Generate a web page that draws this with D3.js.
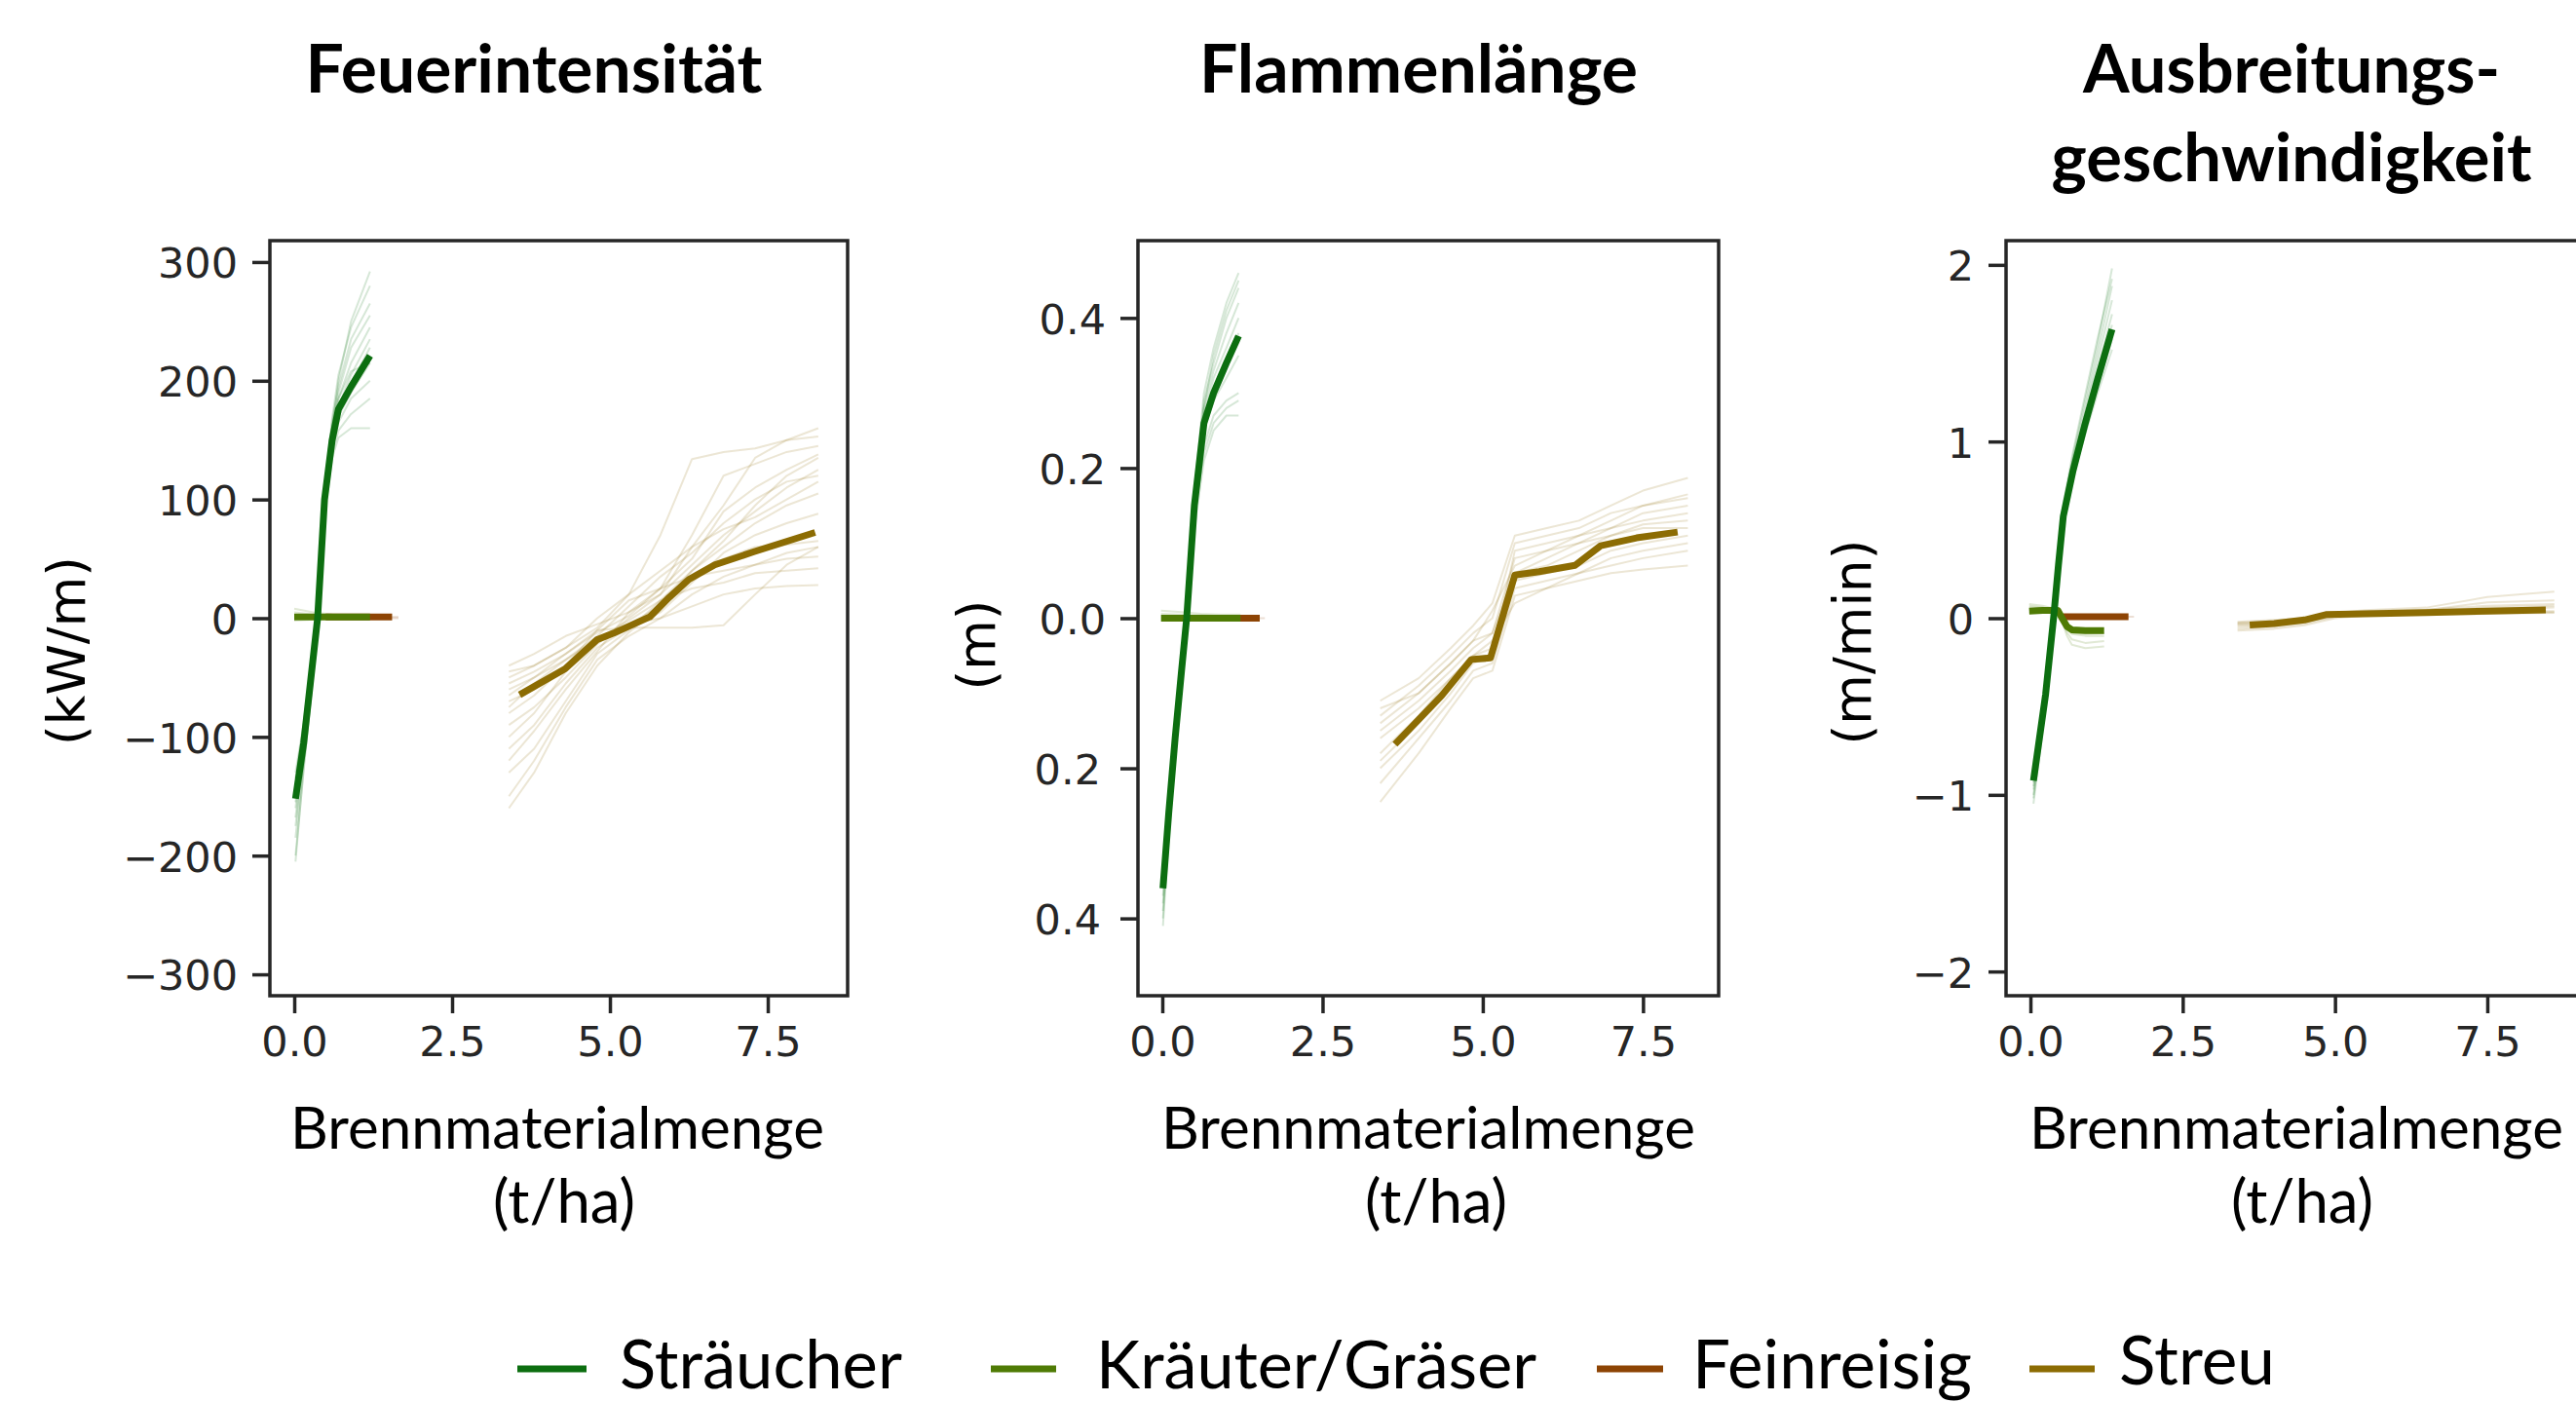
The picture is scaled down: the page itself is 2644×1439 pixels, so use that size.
<!DOCTYPE html>
<html><head><meta charset="utf-8">
<script src="https://cdn.jsdelivr.net/npm/d3@7"></script>
<style>
html,body{margin:0;padding:0;background:#fff;overflow:hidden}
svg{display:block}
</style></head><body>
<svg id="chart" width="2644" height="1439"></svg>
<script>
// ---------------- data ----------------
const fuelTypes = ["Sträucher", "Kräuter/Gräser", "Feinreisig", "Streu"];
const fuelColors = ["#0c6e10", "#4f7b05", "#8d4404", "#8c6c03"];
const panelTitles = [["Feuerintensität"], ["Flammenlänge"], ["Ausbreitungs-", "geschwindigkeit"]];
const yAxisLabels = ["(kW/m)", "(m)", "(m/min)"];
const xAxisLabel = ["Brennmaterialmenge", "(t/ha)"];
const xTickValues = [0, 2.5, 5, 7.5];
const xTickLabels = ["0.0", "2.5", "5.0", "7.5"];
const yTickValues1 = [-300, -200, -100, 0, 100, 200, 300];
const yTickLabels1 = ["−300", "−200", "−100", "0", "100", "200", "300"];
const yTickValues2 = [-0.4, -0.2, 0, 0.2, 0.4];
const yTickLabels2 = ["0.4", "0.2", "0.0", "0.2", "0.4"];
const yTickValues3 = [-2, -1, 0, 1, 2];
const yTickLabels3 = ["−2", "−1", "0", "1", "2"];

// Panel 1: Feuerintensität (kW/m)
const intShrubX = [0.02, 0.15, 0.37, 0.48, 0.6, 0.7, 0.9, 1.2];
const intShrubY = [-152, -105, 0, 100, 150, 176, 195, 221];
const intShrubSamples = [
  [-200, -128, -8, 95, 160, 200, 250, 292],
  [-185, -120, -5, 105, 168, 205, 245, 280],
  [-175, -115, 2, 110, 165, 195, 235, 265],
  [-168, -110, 5, 108, 160, 190, 228, 255],
  [-160, -105, 0, 100, 155, 185, 215, 245],
  [-150, -100, 3, 102, 150, 178, 205, 235],
  [-145, -98, -3, 96, 148, 172, 198, 228],
  [-140, -95, 6, 98, 145, 170, 190, 215],
  [-135, -90, 0, 92, 140, 165, 185, 200],
  [-130, -88, 4, 90, 138, 158, 172, 185],
  [-155, -108, -10, 88, 135, 152, 160, 160],
  [-205, -125, -12, 100, 158, 185, 208, 215]
];
const intHerbX = [0.0, 0.3, 0.6, 0.9, 1.2];
const intHerbY = [1, 1, 1, 1, 1];
const intHerbSamples = [[8, 5, 3, 2, 2], [5, 3, 2, 2, 1], [-2, -1, 0, 0, 0]];
const intTwigX = [0.5, 1.0, 1.55];
const intTwigY = [1, 1, 1];
const intTwigSampleX = [0.5, 1.0, 1.65];
const intTwigSamples = [[1, 1, 1], [0, 0, 0]];
const intLitterX = [3.57, 4.29, 4.8, 5.06, 5.63, 5.94, 6.25, 6.66, 7.27, 8.25];
const intLitterY = [-64.5, -42.7, -18, -12.6, 1.1, 17.6, 32.6, 44.9, 55.8, 72.2];
const intLitterSampleX = [3.4, 3.8, 4.3, 4.8, 5.3, 5.8, 6.3, 6.8, 7.3, 7.8, 8.3];
const intLitterSamples = [
  [-40, -30, -15, -5, 5, 20, 60, 95, 135, 150, 160],
  [-55, -45, -30, -12, 2, 25, 70, 120, 130, 140, 145],
  [-70, -60, -40, -20, -5, 10, 40, 60, 80, 95, 105],
  [-90, -75, -50, -22, 0, 20, 45, 70, 90, 110, 125],
  [-110, -90, -55, -25, -8, 5, 30, 55, 70, 80, 88],
  [-130, -110, -70, -30, -10, 15, 40, 65, 95, 120, 135],
  [-150, -120, -75, -35, -15, 0, 20, 35, 45, 55, 60],
  [-160, -130, -80, -40, -12, 10, 35, 50, 60, 62, 65],
  [-60, -50, -35, -15, 10, 35, 55, 80, 100, 115, 120],
  [-80, -65, -40, -10, 15, 25, 35, 40, 45, 50, 52],
  [-100, -80, -45, -20, -5, 0, 10, 20, 25, 27, 28],
  [-45, -40, -25, 0, 20, 40, 60, 75, 85, 100, 115],
  [-120, -95, -60, -28, 5, 25, 50, 90, 110, 125, 138],
  [-75, -55, -35, -18, -2, 15, 25, 30, 38, 40, 42],
  [-50, -40, -25, -8, 20, 70, 134, 140, 143, 150, 153],
  [-65, -50, -30, -10, -8, -8, -8, -6, 20, 45, 60]
];

// Panel 2: Flammenlänge (m)
const flameShrubX = [0.01, 0.1, 0.2, 0.3, 0.38, 0.5, 0.65, 0.8, 1.0, 1.19];
const flameShrubY = [-0.36, -0.26, -0.16, -0.07, 0.0, 0.15, 0.26, 0.30, 0.34, 0.376];
const flameShrubSamples = [
  [-0.41, -0.29, -0.18, -0.08, 0.0, 0.17, 0.30, 0.36, 0.42, 0.46],
  [-0.39, -0.28, -0.17, -0.07, 0.01, 0.16, 0.29, 0.34, 0.40, 0.44],
  [-0.38, -0.27, -0.17, -0.08, -0.01, 0.15, 0.28, 0.33, 0.38, 0.42],
  [-0.37, -0.26, -0.16, -0.07, 0.0, 0.16, 0.27, 0.32, 0.36, 0.40],
  [-0.35, -0.25, -0.15, -0.06, 0.01, 0.15, 0.26, 0.30, 0.34, 0.38],
  [-0.34, -0.25, -0.16, -0.07, 0.0, 0.14, 0.25, 0.29, 0.32, 0.35],
  [-0.36, -0.26, -0.16, -0.06, 0.0, 0.13, 0.23, 0.27, 0.29, 0.30],
  [-0.33, -0.24, -0.15, -0.06, 0.0, 0.12, 0.21, 0.25, 0.27, 0.27],
  [-0.40, -0.28, -0.17, -0.07, 0.0, 0.16, 0.28, 0.35, 0.41, 0.45],
  [-0.35, -0.25, -0.15, -0.06, 0.02, 0.14, 0.22, 0.26, 0.28, 0.29]
];
const flameHerbX = [-0.02, 0.3, 0.6, 0.9, 1.22];
const flameHerbY = [0.0, 0.0, 0.0, 0.0, 0.0];
const flameHerbSamples = [[0.01, 0.008, 0.006, 0.005, 0.005], [0.006, 0.005, 0.004, 0.003, 0.003]];
const flameTwigX = [0.5, 1.0, 1.52];
const flameTwigY = [0.0, 0.0, 0.0];
const flameTwigSampleX = [0.5, 1.0, 1.6];
const flameTwigSamples = [[0.0, 0.0, 0.0]];
const flameLitterX = [3.63, 4.36, 4.82, 5.12, 5.5, 5.88, 6.44, 6.84, 7.40, 8.04];
const flameLitterY = [-0.168, -0.103, -0.055, -0.053, 0.0575, 0.062, 0.0705, 0.0965, 0.107, 0.1147];
const flameLitterSampleX = [3.4, 4.0, 4.5, 4.85, 5.15, 5.5, 6.0, 6.5, 7.0, 7.5, 8.2];
const flameLitterSamples = [
  [-0.11, -0.08, -0.04, -0.01, 0.02, 0.11, 0.12, 0.13, 0.15, 0.17, 0.187],
  [-0.13, -0.09, -0.05, -0.02, 0.0, 0.10, 0.11, 0.12, 0.14, 0.15, 0.165],
  [-0.15, -0.11, -0.07, -0.04, -0.02, 0.08, 0.09, 0.10, 0.12, 0.14, 0.15],
  [-0.18, -0.13, -0.08, -0.05, -0.04, 0.06, 0.07, 0.09, 0.11, 0.125, 0.13],
  [-0.20, -0.15, -0.10, -0.06, -0.05, 0.05, 0.06, 0.07, 0.09, 0.10, 0.11],
  [-0.22, -0.16, -0.11, -0.07, -0.06, 0.04, 0.05, 0.06, 0.07, 0.08, 0.09],
  [-0.245, -0.18, -0.12, -0.08, -0.07, 0.03, 0.04, 0.05, 0.06, 0.065, 0.07],
  [-0.12, -0.10, -0.06, -0.03, 0.01, 0.07, 0.09, 0.11, 0.13, 0.15, 0.16],
  [-0.16, -0.12, -0.08, -0.05, -0.03, 0.02, 0.04, 0.06, 0.08, 0.09, 0.10],
  [-0.19, -0.14, -0.09, -0.055, -0.05, 0.09, 0.10, 0.11, 0.12, 0.13, 0.14],
  [-0.14, -0.10, -0.06, -0.03, -0.02, 0.06, 0.08, 0.10, 0.11, 0.12, 0.12]
];

// Panel 3: Ausbreitungsgeschwindigkeit (m/min)
const spreadShrubX = [0.05, 0.25, 0.38, 0.46, 0.54, 0.70, 0.89, 1.10, 1.34];
const spreadShrubY = [-0.92, -0.43, 0.0, 0.30, 0.577, 0.835, 1.09, 1.35, 1.635];
const spreadShrubSamples = [
  [-1.05, -0.50, -0.02, 0.32, 0.62, 0.92, 1.22, 1.55, 1.98],
  [-1.00, -0.47, 0.0, 0.33, 0.63, 0.90, 1.18, 1.50, 1.88],
  [-0.97, -0.45, 0.01, 0.32, 0.61, 0.88, 1.15, 1.45, 1.80],
  [-0.95, -0.44, 0.0, 0.31, 0.60, 0.86, 1.12, 1.40, 1.72],
  [-0.90, -0.42, 0.02, 0.31, 0.59, 0.85, 1.10, 1.37, 1.66],
  [-0.88, -0.40, 0.03, 0.30, 0.56, 0.82, 1.06, 1.31, 1.58],
  [-0.86, -0.39, 0.02, 0.29, 0.55, 0.80, 1.03, 1.27, 1.52],
  [-1.02, -0.48, -0.01, 0.34, 0.65, 0.94, 1.25, 1.58, 1.92],
  [-0.93, -0.43, 0.0, 0.30, 0.58, 0.84, 1.08, 1.33, 1.60]
];
const spreadHerbX = [-0.02, 0.2, 0.45, 0.52, 0.6, 0.68, 0.9, 1.21];
const spreadHerbY = [0.04, 0.044, 0.044, 0.0, -0.047, -0.066, -0.07, -0.07];
const spreadHerbSamples = [
  [0.08, 0.07, 0.05, 0.0, -0.08, -0.12, -0.14, -0.13],
  [0.06, 0.06, 0.045, -0.01, -0.06, -0.09, -0.10, -0.10],
  [0.05, 0.05, 0.04, 0.0, -0.05, -0.08, -0.09, -0.085],
  [0.03, 0.035, 0.035, 0.0, -0.04, -0.06, -0.065, -0.06],
  [0.07, 0.06, 0.05, -0.02, -0.10, -0.15, -0.17, -0.16]
];
const spreadTwigX = [0.54, 1.0, 1.61];
const spreadTwigY = [0.008, 0.008, 0.008];
const spreadTwigSampleX = [0.54, 1.0, 1.7];
const spreadTwigSamples = [[0.008, 0.008, 0.008]];
const spreadLitterX = [3.6, 4.0, 4.5, 4.85, 5.5, 6.5, 7.5, 8.46];
const spreadLitterY = [-0.038, -0.03, -0.01, 0.02, 0.025, 0.032, 0.04, 0.047];
const spreadLitterSampleX = [3.4, 4.0, 4.5, 5.0, 5.5, 6.5, 7.5, 8.6];
const spreadLitterSamples = [
  [-0.02, -0.01, 0.0, 0.03, 0.04, 0.05, 0.07, 0.08],
  [-0.05, -0.04, -0.02, 0.01, 0.02, 0.03, 0.035, 0.04],
  [-0.07, -0.06, -0.04, 0.0, 0.015, 0.02, 0.025, 0.03],
  [-0.04, -0.035, -0.015, 0.02, 0.03, 0.04, 0.06, 0.07],
  [-0.03, -0.02, -0.005, 0.025, 0.035, 0.045, 0.09, 0.1],
  [-0.06, -0.05, -0.03, 0.01, 0.02, 0.025, 0.03, 0.035],
  [-0.035, -0.03, -0.01, 0.015, 0.025, 0.035, 0.05, 0.06],
  [-0.025, -0.02, 0.0, 0.03, 0.045, 0.06, 0.12, 0.15]
];

// ---------------- assemble ----------------
const panelData = [
  [
    {fuel: 0, x: intShrubX, y: intShrubY, sx: intShrubX, samples: intShrubSamples},
    {fuel: 1, x: intHerbX, y: intHerbY, sx: intHerbX, samples: intHerbSamples},
    {fuel: 2, x: intTwigX, y: intTwigY, sx: intTwigSampleX, samples: intTwigSamples},
    {fuel: 3, x: intLitterX, y: intLitterY, sx: intLitterSampleX, samples: intLitterSamples}
  ],
  [
    {fuel: 0, x: flameShrubX, y: flameShrubY, sx: flameShrubX, samples: flameShrubSamples},
    {fuel: 1, x: flameHerbX, y: flameHerbY, sx: flameHerbX, samples: flameHerbSamples},
    {fuel: 2, x: flameTwigX, y: flameTwigY, sx: flameTwigSampleX, samples: flameTwigSamples},
    {fuel: 3, x: flameLitterX, y: flameLitterY, sx: flameLitterSampleX, samples: flameLitterSamples}
  ],
  [
    {fuel: 0, x: spreadShrubX, y: spreadShrubY, sx: spreadShrubX, samples: spreadShrubSamples},
    {fuel: 1, x: spreadHerbX, y: spreadHerbY, sx: spreadHerbX, samples: spreadHerbSamples},
    {fuel: 2, x: spreadTwigX, y: spreadTwigY, sx: spreadTwigSampleX, samples: spreadTwigSamples},
    {fuel: 3, x: spreadLitterX, y: spreadLitterY, sx: spreadLitterSampleX, samples: spreadLitterSamples}
  ]
];
const yTicks = [[yTickValues1, yTickLabels1], [yTickValues2, yTickLabels2], [yTickValues3, yTickLabels3]];

// ---------------- layout ----------------
const panels = [
  {left: 277, right: 870, top: 247, bottom: 1022, xd: [-0.386, 8.765], yd: [-318, 318],
   title: {cx: 548, y: [95], w: [469]}, ylab: {x: 87, y: 668}, xlab: {cx: [572, 579]}},
  {left: 1168, right: 1764, top: 247, bottom: 1022, xd: [-0.38, 8.68], yd: [-0.503, 0.503],
   title: {cx: 1456, y: [95], w: [450]}, ylab: {x: 1021, y: 662}, xlab: {cx: [1466, 1474]}},
  {left: 2059, right: 2648, top: 247, bottom: 1022, xd: [-0.4, 9.02], yd: [-2.137, 2.137],
   title: {cx: 2352, y: [95, 186], w: [428, 493]}, ylab: {x: 1920, y: 659}, xlab: {cx: [2357, 2363]}}
];
const AX = "#262626";
const CAL = "Lato, 'Open Sans', sans-serif";
const DJ = "'DejaVu Sans', sans-serif";

const svg = d3.select("#chart");
svg.append("rect").attr("width", 2644).attr("height", 1439).attr("fill", "#fff");

function fit(sel, target, base) {
  sel.style("font-size", base + "px");
  const w = sel.node().getComputedTextLength();
  sel.style("font-size", (base * target / w).toFixed(2) + "px");
}

panels.forEach((p, pi) => {
  const x = d3.scaleLinear().domain(p.xd).range([p.left, p.right]);
  const y = d3.scaleLinear().domain(p.yd).range([p.bottom, p.top]);
  const g = svg.append("g");

  // lines
  const series = panelData[pi];
  const sampleOrder = [3, 2, 1, 0];
  const mainOrder = [2, 1, 0, 3];
  const lg = g.append("g").attr("fill", "none").attr("stroke-linejoin", "round");
  sampleOrder.forEach(fi => {
    const s = series.find(d => d.fuel === fi);
    const line = d3.line().x((d, i) => x(s.sx[i])).y(d => y(d));
    lg.selectAll(null).data(s.samples).join("path")
      .attr("d", d => line(d))
      .attr("stroke", fuelColors[fi])
      .attr("stroke-width", 2)
      .attr("stroke-opacity", 0.17);
  });
  mainOrder.forEach(fi => {
    const s = series.find(d => d.fuel === fi);
    const line = d3.line().x(d => x(d[0])).y(d => y(d[1]));
    lg.append("path")
      .attr("d", line(s.x.map((v, i) => [v, s.y[i]])))
      .attr("stroke", fuelColors[fi])
      .attr("stroke-width", 7)
      .attr("stroke-linecap", "butt");
  });

  // axes
  const [tv, tl] = yTicks[pi];
  const ya = g.append("g").attr("transform", `translate(${p.left},0)`)
    .call(d3.axisLeft(y).tickValues(tv).tickFormat((d, i) => tl[i]).tickSize(18).tickPadding(15));
  const xa = g.append("g").attr("transform", `translate(0,${p.bottom})`)
    .call(d3.axisBottom(x).tickValues(xTickValues).tickFormat((d, i) => xTickLabels[i]).tickSize(18).tickPadding(13));
  [ya, xa].forEach(a => {
    a.select(".domain").remove();
    a.selectAll(".tick line").attr("stroke", AX).attr("stroke-width", 3.5);
    a.selectAll(".tick text").attr("fill", AX).style("font-family", DJ).style("font-size", "43px");
  });
  ya.selectAll(".tick text").attr("dy", "0.37em");
  if (pi === 1) ya.selectAll(".tick text").filter(d => d < 0).attr("dx", -5);

  // frame
  g.append("rect").attr("x", p.left).attr("y", p.top)
    .attr("width", p.right - p.left).attr("height", p.bottom - p.top)
    .attr("fill", "none").attr("stroke", AX).attr("stroke-width", 3.5);

  // y label
  svg.append("text").text(yAxisLabels[pi])
    .attr("transform", `translate(${p.ylab.x},${p.ylab.y}) rotate(-90)`)
    .attr("text-anchor", "middle").attr("fill", "#000")
    .style("font-family", DJ).style("font-size", "53px");

  // x label (two lines)
  const xl1 = svg.append("text").text(xAxisLabel[0]).attr("x", p.xlab.cx[0]).attr("y", 1179)
    .attr("text-anchor", "middle").attr("fill", "#000").style("font-family", CAL);
  fit(xl1, 548, 60);
  const xl2 = svg.append("text").text(xAxisLabel[1]).attr("x", p.xlab.cx[1]).attr("y", 1255)
    .attr("text-anchor", "middle").attr("fill", "#000").style("font-family", CAL);
  fit(xl2, 146, 60);

  // title
  panelTitles[pi].forEach((t, li) => {
    const tt = svg.append("text").text(t).attr("x", p.title.cx).attr("y", p.title.y[li])
      .attr("text-anchor", "middle").attr("fill", "#000")
      .style("font-family", CAL).style("font-weight", "bold");
    fit(tt, p.title.w[li], 68);
  });
});

// legend
const legendItems = [
  {h: [531, 602], tx: 636, tw: 290, y: 1425},
  {h: [1017, 1084], tx: 1125, tw: 452, y: 1425},
  {h: [1639, 1707], tx: 1737, tw: 287, y: 1425},
  {h: [2083, 2150], tx: 2175, tw: 160, y: 1421}
];
const leg = svg.append("g");
fuelTypes.forEach((f, i) => {
  const it = legendItems[i];
  leg.append("line").attr("x1", it.h[0]).attr("x2", it.h[1]).attr("y1", 1405).attr("y2", 1405)
    .attr("stroke", fuelColors[i]).attr("stroke-width", 7);
  const t = leg.append("text").text(f).attr("x", it.tx).attr("y", it.y)
    .attr("fill", "#000").style("font-family", CAL);
  fit(t, it.tw, 66);
});
</script>
</body></html>
